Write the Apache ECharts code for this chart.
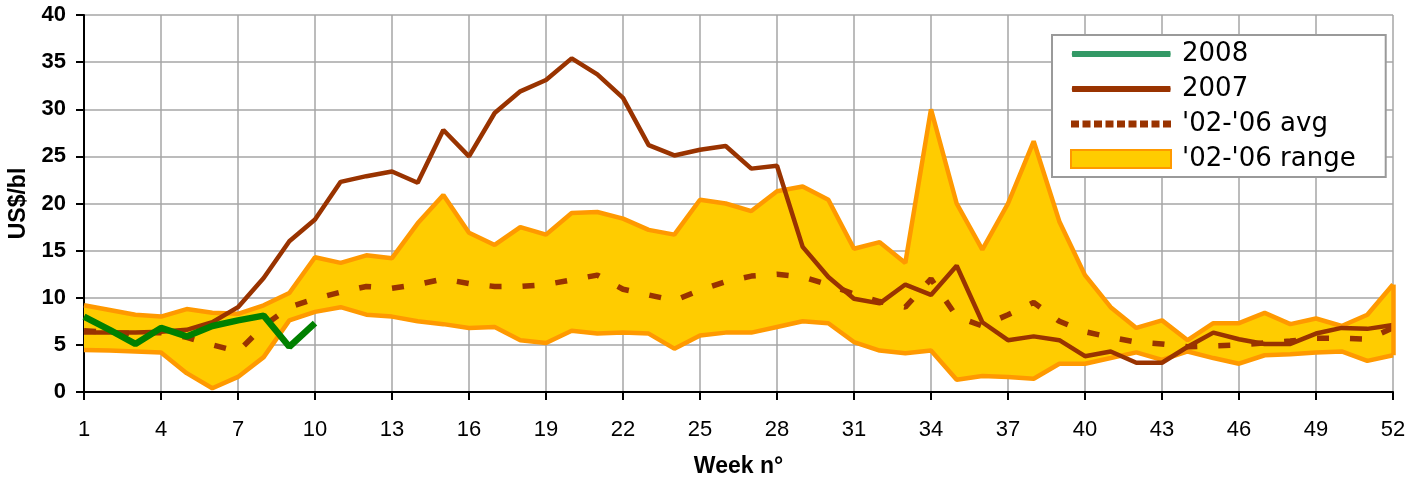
<!DOCTYPE html>
<html>
<head>
<meta charset="utf-8">
<script src="https://cdn.jsdelivr.net/npm/echarts@6/dist/echarts.min.js"></script>
<style>
html,body{margin:0;padding:0;background:#fff;}
#c{width:1414px;height:480px;}
</style>
</head>
<body>
<div id="c"></div>
<script>
const weeks = ['1','2','3','4','5','6','7','8','9','10','11','12','13','14','15','16','17','18','19','20','21','22','23','24','25','26','27','28','29','30','31','32','33','34','35','36','37','38','39','40','41','42','43','44','45','46','47','48','49','50','51','52'];
const y2008 = [8.0, 6.6, 5.1, 6.8, 5.9, 7.0, 7.6, 8.1, 4.8, 7.3];
const y2007 = [6.3, 6.3, 6.3, 6.4, 6.6, 7.4, 9.0, 12.1, 16.0, 18.3, 22.3, 22.9, 23.4, 22.2, 27.8, 25.0, 29.6, 31.9, 33.1, 35.4, 33.7, 31.2, 26.2, 25.1, 25.7, 26.1, 23.7, 24.0, 15.4, 12.2, 9.9, 9.4, 11.4, 10.3, 13.4, 7.4, 5.5, 5.9, 5.5, 3.8, 4.3, 3.1, 3.1, 4.8, 6.3, 5.6, 5.1, 5.1, 6.2, 6.8, 6.7, 7.1];
const avg0206 = [6.5, 6.3, 6.2, 6.3, 5.8, 5.0, 4.3, 7.0, 9.0, 9.9, 10.6, 11.2, 11.0, 11.4, 12.0, 11.5, 11.2, 11.2, 11.4, 11.9, 12.4, 10.9, 10.3, 9.7, 10.8, 11.7, 12.3, 12.5, 12.2, 11.4, 10.4, 9.6, 9.0, 12.0, 8.0, 7.0, 8.2, 9.5, 7.5, 6.4, 5.8, 5.3, 5.1, 4.8, 4.9, 5.0, 5.2, 5.4, 5.7, 5.7, 5.6, 6.8];
const rangeMax = [9.2, 8.7, 8.2, 8.0, 8.8, 8.4, 8.3, 9.2, 10.5, 14.3, 13.7, 14.5, 14.2, 17.9, 20.9, 16.9, 15.6, 17.5, 16.7, 19.0, 19.1, 18.4, 17.2, 16.7, 20.4, 20.0, 19.2, 21.3, 21.8, 20.4, 15.2, 15.9, 13.7, 30.0, 20.0, 15.1, 20.0, 26.6, 18.1, 12.4, 9.0, 6.8, 7.6, 5.5, 7.3, 7.3, 8.4, 7.2, 7.8, 7.0, 8.2, 11.4];
const rangeMin = [4.45, 4.4, 4.3, 4.2, 2.0, 0.4, 1.6, 3.7, 7.6, 8.5, 9.0, 8.2, 8.0, 7.5, 7.2, 6.8, 6.9, 5.5, 5.2, 6.5, 6.2, 6.3, 6.2, 4.6, 6.0, 6.3, 6.3, 6.9, 7.5, 7.3, 5.3, 4.4, 4.1, 4.4, 1.3, 1.7, 1.6, 1.4, 3.0, 3.0, 3.6, 4.2, 3.4, 4.3, 3.6, 3.0, 3.9, 4.0, 4.2, 4.3, 3.3, 3.9];
const yTicks = [0, 5, 10, 15, 20, 25, 30, 35, 40];

const bandSpan = rangeMax.map((v, i) => +(v - rangeMin[i]).toFixed(2));
const last = weeks.length - 1;

// legend icon shapes (box 100 x 18)
const solidIcon = 'path://M0,0 M0,18 M1,6 L99,6 Q100,9 99,12 L1,12 Q0,9 1,6 Z';
let dotted = 'path://M0,0 M0,18';
for (let k = 0; k < 9; k++) {
  const x0 = k * 11.5;
  dotted += ' M' + x0 + ',5.5 L' + (x0 + 8) + ',5.5 L' + (x0 + 8) + ',12.5 L' + x0 + ',12.5 Z';
}

const chart = echarts.init(document.getElementById('c'), null, {renderer: 'canvas'});
chart.setOption({
  animation: false,
  backgroundColor: '#ffffff',
  grid: {left: 84, right: 21, top: 15, bottom: 88, containLabel: false, outerBoundsMode: 'none'},
  legend: {
    show: true,
    left: 1052, top: 35, orient: 'vertical',
    padding: [6, 30, 5, 18],
    backgroundColor: '#ffffff',
    borderColor: '#9a9a9a', borderWidth: 2,
    itemWidth: 100, itemHeight: 18, itemGap: 9,
    textStyle: {fontFamily: 'DejaVu Sans', fontSize: 26, color: '#000', padding: [0, 0, 0, 6]},
    data: [
      {name: '2008', icon: solidIcon, itemStyle: {color: '#339966', borderWidth: 0}},
      {name: '2007', icon: solidIcon, itemStyle: {color: '#993300', borderWidth: 0}},
      {name: "'02-'06 avg", icon: dotted, itemStyle: {color: '#993300', borderWidth: 0}},
      {name: "'02-'06 range", icon: 'rect', itemStyle: {color: '#FFCC00', borderColor: '#FF9900', borderWidth: 2}}
    ]
  },
  xAxis: {
    type: 'category', data: weeks, boundaryGap: false,
    name: 'Week n°', nameLocation: 'middle', nameGap: 63,
    nameTextStyle: {fontFamily: 'Liberation Sans', fontWeight: 'bold', fontSize: 23, color: '#000'},
    axisLine: {lineStyle: {color: '#000', width: 2}},
    axisTick: {interval: 2, length: 8, lineStyle: {color: '#000', width: 2}},
    axisLabel: {interval: 2, margin: 27, fontFamily: 'Liberation Sans', fontSize: 22, color: '#000'},
    splitLine: {show: true, interval: 2, lineStyle: {color: '#a6a6a6', width: 1.5}}
  },
  yAxis: {
    type: 'value', min: yTicks[0], max: yTicks[yTicks.length - 1], interval: yTicks[1] - yTicks[0],
    name: 'US$/bl', nameLocation: 'middle', nameGap: 39, nameRotate: 90,
    nameTextStyle: {fontFamily: 'Liberation Sans', fontWeight: 'bold', fontSize: 23, color: '#000'},
    axisLine: {show: true, lineStyle: {color: '#000', width: 2}},
    axisTick: {show: true, length: 8, lineStyle: {color: '#000', width: 2}},
    axisLabel: {margin: 18, fontFamily: 'Liberation Sans', fontWeight: 'bold', fontSize: 22, color: '#000'},
    splitLine: {show: true, lineStyle: {color: '#a6a6a6', width: 1.5}}
  },
  series: [
    {
      name: 'rangeBase', type: 'line', stack: 'range', data: rangeMin, symbol: 'none',
      lineStyle: {color: '#FF9900', width: 4.5}, z: 2, silent: true
    },
    {
      name: "'02-'06 range", type: 'line', stack: 'range', data: bandSpan, symbol: 'none',
      lineStyle: {color: '#FF9900', width: 4.5},
      itemStyle: {color: '#FFCC00', borderColor: '#FF9900', borderWidth: 2},
      areaStyle: {color: '#FFCC00', opacity: 1}, z: 1,
      markLine: {
        silent: true, symbol: 'none', label: {show: false},
        lineStyle: {color: '#FF9900', width: 4.5, type: 'solid'},
        data: [[{coord: [weeks[last], rangeMin[last]]}, {coord: [weeks[last], rangeMax[last]]}]]
      }
    },
    {
      name: "'02-'06 avg", type: 'line', data: avg0206, symbol: 'none',
      itemStyle: {color: '#993300'},
      lineStyle: {color: '#993300', width: 5.5, type: [12, 21]}, z: 3
    },
    {
      name: '2007', type: 'line', data: y2007, symbol: 'none',
      itemStyle: {color: '#993300'},
      lineStyle: {color: '#993300', width: 4.5}, z: 4
    },
    {
      name: '2008', type: 'line', data: y2008, symbol: 'none',
      itemStyle: {color: '#339966'},
      lineStyle: {color: '#008000', width: 6.5}, z: 5
    }
  ]
});
</script>
</body>
</html>
